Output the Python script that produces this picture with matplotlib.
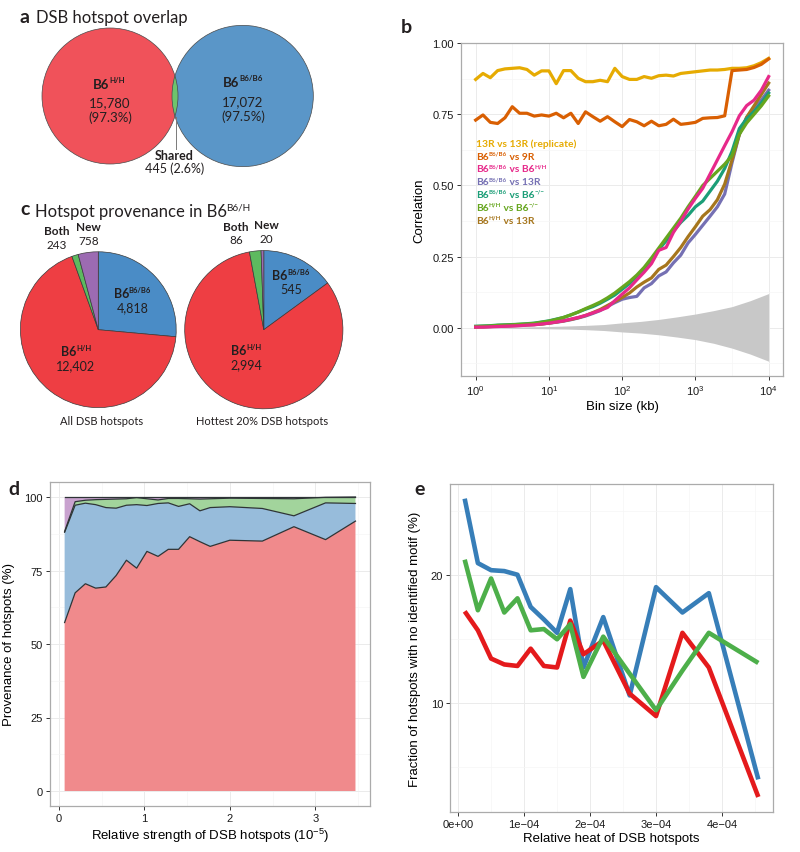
import numpy as np
import matplotlib
matplotlib.use("Agg")
import matplotlib.pyplot as plt
from matplotlib.patches import Circle

plt.rcParams["font.family"] = ["Liberation Sans", "DejaVu Sans"]
plt.rcParams["mathtext.fontset"] = "custom"
plt.rcParams["mathtext.rm"] = "Liberation Sans"
plt.rcParams["mathtext.it"] = "Liberation Sans:italic"
plt.rcParams["mathtext.bf"] = "Liberation Sans:bold"

W, H = 800, 853
ANN = ["Lato", "DejaVu Sans"]
INK = "#231f20"

# --- a: hotspot overlap ---
venn_hh = 15780
venn_b6 = 17072
venn_shared = 445
venn_pct = ["(97.3%)", "(97.5%)", "(2.6%)"]

# --- c: provenance pies (B6B6/B6, B6H/H, Both, New) ---
pie_all = [4818, 12402, 243, 758]
pie_hot = [545, 2994, 86, 20]

# --- b: correlation vs bin size ---
bin_log10 = [0.0, 0.1, 0.2, 0.3, 0.4, 0.5, 0.6, 0.7, 0.8, 0.9,
             1.0, 1.1, 1.2, 1.3, 1.4, 1.5, 1.6, 1.7, 1.8, 1.9,
             2.0, 2.1, 2.2, 2.3, 2.4, 2.5, 2.6, 2.7, 2.8, 2.9,
             3.0, 3.1, 3.2, 3.3, 3.4, 3.5, 3.6, 3.7, 3.8, 3.9, 4.0]
corr_rep = [0.873, 0.894, 0.879, 0.904, 0.910, 0.912, 0.914, 0.908, 0.888, 0.903,
            0.903, 0.858, 0.904, 0.904, 0.877, 0.865, 0.865, 0.870, 0.865, 0.912,
            0.883, 0.873, 0.873, 0.883, 0.877, 0.886, 0.888, 0.885, 0.894, 0.897,
            0.900, 0.903, 0.906, 0.906, 0.908, 0.912, 0.912, 0.914, 0.921, 0.932, 0.947]
corr_9r = [0.730, 0.748, 0.722, 0.718, 0.738, 0.777, 0.754, 0.754, 0.744, 0.748,
           0.744, 0.754, 0.738, 0.754, 0.718, 0.759, 0.742, 0.726, 0.742, 0.724,
           0.707, 0.732, 0.724, 0.710, 0.726, 0.710, 0.715, 0.733, 0.715, 0.718,
           0.722, 0.736, 0.738, 0.739, 0.745, 0.904, 0.906, 0.908, 0.915, 0.926, 0.945]
corr_hh = [0.002, 0.002, 0.003, 0.004, 0.005, 0.006, 0.007, 0.009, 0.010, 0.013,
           0.016, 0.020, 0.024, 0.030, 0.036, 0.043, 0.052, 0.061, 0.071, 0.095,
           0.118, 0.140, 0.168, 0.195, 0.225, 0.272, 0.282, 0.335, 0.374, 0.417,
           0.455, 0.490, 0.540, 0.590, 0.640, 0.689, 0.745, 0.781, 0.800, 0.835, 0.883]
corr_13r = [0.003, 0.003, 0.004, 0.005, 0.006, 0.007, 0.008, 0.010, 0.011, 0.013,
            0.016, 0.019, 0.023, 0.028, 0.034, 0.041, 0.050, 0.060, 0.075, 0.088,
            0.100, 0.106, 0.110, 0.140, 0.155, 0.182, 0.196, 0.228, 0.255, 0.298,
            0.328, 0.360, 0.392, 0.425, 0.470, 0.580, 0.680, 0.740, 0.770, 0.800, 0.835]
corr_ko = [0.005, 0.006, 0.007, 0.009, 0.010, 0.011, 0.012, 0.014, 0.016, 0.020,
           0.024, 0.030, 0.036, 0.045, 0.055, 0.065, 0.074, 0.086, 0.100, 0.115,
           0.135, 0.155, 0.180, 0.205, 0.240, 0.275, 0.305, 0.340, 0.370, 0.395,
           0.425, 0.445, 0.480, 0.515, 0.560, 0.620, 0.700, 0.735, 0.760, 0.790, 0.825]
corr_hh_ko = [0.004, 0.005, 0.006, 0.008, 0.009, 0.010, 0.012, 0.013, 0.015, 0.019,
              0.023, 0.029, 0.036, 0.045, 0.055, 0.067, 0.078, 0.090, 0.105, 0.122,
              0.142, 0.162, 0.185, 0.212, 0.245, 0.280, 0.315, 0.350, 0.385, 0.425,
              0.462, 0.500, 0.525, 0.550, 0.575, 0.605, 0.680, 0.720, 0.750, 0.780, 0.815]
corr_hh_13r = [0.002, 0.003, 0.004, 0.005, 0.006, 0.007, 0.008, 0.010, 0.011, 0.013,
               0.016, 0.020, 0.024, 0.029, 0.035, 0.043, 0.053, 0.064, 0.078, 0.092,
               0.106, 0.122, 0.143, 0.160, 0.175, 0.205, 0.220, 0.250, 0.282, 0.320,
               0.355, 0.392, 0.415, 0.450, 0.505, 0.590, 0.680, 0.740, 0.780, 0.820, 0.860]
null_log10 = [0.0, 0.25, 0.5, 0.75, 1.0, 1.25, 1.5, 1.75, 2.0, 2.25,
              2.5, 2.75, 3.0, 3.25, 3.5, 3.75, 4.0]
null_hi = [0.000, 0.001, 0.002, 0.003, 0.004, 0.006, 0.008, 0.011, 0.017, 0.022,
           0.029, 0.038, 0.048, 0.060, 0.074, 0.095, 0.120]
null_lo = [0.000, -0.001, -0.002, -0.003, -0.004, -0.005, -0.007, -0.010, -0.015, -0.019,
           -0.025, -0.033, -0.042, -0.055, -0.072, -0.093, -0.118]
# label pieces: (text, is_superscript)
b_labels = [[("13R vs 13R (replicate)", False)],
            [("B6", False), ("B6/B6", True), (" vs 9R", False)],
            [("B6", False), ("B6/B6", True), (" vs B6", False), ("H/H", True)],
            [("B6", False), ("B6/B6", True), (" vs 13R", False)],
            [("B6", False), ("B6/B6", True), (" vs B6", False), ("\u2212/\u2212", True)],
            [("B6", False), ("H/H", True), (" vs B6", False), ("\u2212/\u2212", True)],
            [("B6", False), ("H/H", True), (" vs 13R", False)]]
b_colors = ["#E6AB02", "#D95F02", "#E7298A", "#7570B3", "#1B9E77", "#66A61E", "#A6761D"]

# --- d: provenance vs strength (stack: B6H/H, B6B6/B6, Both, New) ---
strength = [0.067, 0.19, 0.31, 0.43, 0.55, 0.67, 0.79, 0.91, 1.03, 1.16,
            1.28, 1.40, 1.53, 1.65, 1.77, 2.00, 2.38, 2.75, 3.12, 3.47]
prov_hh = [57.3, 67.4, 70.5, 69.0, 69.4, 73.3, 78.5, 75.8, 81.5, 79.8,
           82.2, 82.2, 86.5, 84.8, 83.2, 85.3, 85.0, 89.9, 85.5, 91.8]
prov_b6 = [30.7, 29.8, 27.4, 28.4, 27.0, 22.9, 18.7, 21.6, 15.6, 18.0,
           15.8, 14.6, 11.2, 10.5, 13.2, 11.4, 11.1, 3.7, 12.5, 6.0]
prov_both = [0.3, 1.2, 1.0, 1.7, 2.8, 3.1, 2.2, 2.4, 2.3, 1.2,
             1.5, 2.7, 1.7, 4.0, 3.0, 2.9, 3.4, 5.8, 1.9, 2.2]
prov_new = [11.7, 1.6, 1.1, 0.9, 0.8, 0.7, 0.6, 0.2, 0.6, 1.0,
            0.5, 0.5, 0.6, 0.7, 0.6, 0.4, 0.5, 0.6, 0.1, 0.0]

# --- e: hotspots without motif vs heat ---
heat = [0.1e-4, 0.3e-4, 0.5e-4, 0.7e-4, 0.9e-4, 1.1e-4, 1.3e-4, 1.5e-4,
        1.7e-4, 1.9e-4, 2.2e-4, 2.6e-4, 3.0e-4, 3.4e-4, 3.8e-4, 4.55e-4]
nomotif_blue = [30.2, 21.3, 20.5, 20.4, 20.0, 16.8, 15.7, 14.6,
                18.5, 12.1, 15.9, 10.4, 18.7, 16.3, 18.1, 6.6]
nomotif_green = [21.7, 16.5, 19.6, 16.3, 17.6, 14.8, 14.9, 14.1,
                 15.3, 11.5, 14.3, 11.7, 9.6, 11.9, 14.6, 12.4]
nomotif_red = [16.4, 14.8, 12.7, 12.3, 12.2, 13.4, 12.2, 12.1,
               15.6, 13.0, 14.0, 10.5, 9.3, 14.6, 12.1, 6.0]

fig = plt.figure(figsize=(8, 8.53), dpi=100)


def px_axes(l, t, r, b):
    return fig.add_axes([l / W, 1 - b / H, (r - l) / W, (b - t) / H])


def gg_style(ax):
    ax.set_facecolor("white")
    for s in ax.spines.values():
        s.set_color("#ABABAB")
        s.set_linewidth(0.9)
    ax.tick_params(which="major", length=3, width=0.7, color="#333333",
                   labelsize=8, labelcolor="#1a1a1a", pad=2)
    ax.tick_params(which="minor", length=0)
    ax.grid(which="major", color="#EBEBEB", lw=0.7)
    ax.grid(which="minor", color="#F6F6F6", lw=0.5)
    ax.set_axisbelow(True)


# ---------- panel b ----------
ax_b = px_axes(461, 44.3, 783.3, 377.3)
gg_style(ax_b)
xb = 10 ** np.array(bin_log10)
xn = 10 ** np.array(null_log10)
ax_b.fill_between(xn, null_lo, null_hi, color="#C8C8C8", lw=0)
series_b = [corr_rep, corr_9r, corr_13r, corr_hh_13r, corr_ko, corr_hh_ko, corr_hh]
cols_b = [b_colors[0], b_colors[1], b_colors[3], b_colors[6], b_colors[4], b_colors[5], b_colors[2]]
for ys, c in zip(series_b, cols_b):
    ax_b.plot(xb, ys, color=c, lw=2.3, solid_joinstyle="round")
ax_b.set_xscale("log")
ax_b.set_xlim(10 ** -0.2, 10 ** 4.2)
ax_b.set_ylim(-0.171, 1.0)
ax_b.set_xticks([1, 10, 100, 1000, 10000])
ax_b.set_xticklabels([r"10$^{0}$", r"10$^{1}$", r"10$^{2}$", r"10$^{3}$", r"10$^{4}$"])
ax_b.set_xticks([10 ** 0.5, 10 ** 1.5, 10 ** 2.5, 10 ** 3.5], minor=True)
ax_b.set_yticks([0, 0.25, 0.5, 0.75, 1.0])
ax_b.set_yticklabels(["0.00", "0.25", "0.50", "0.75", "1.00"])
ax_b.set_yticks([-0.125, 0.125, 0.375, 0.625, 0.875], minor=True)
ax_b.set_xlabel("Bin size (kb)", fontsize=9.5, labelpad=2)
ax_b.set_ylabel("Correlation", fontsize=9.5, labelpad=5)

# ---------- panel d ----------
ax_d = px_axes(50, 483.3, 370, 806.7)
gg_style(ax_d)
d_colors = ["#F08A8C", "#97BCDB", "#A2D49C", "#C9A2CF"]
ax_d.stackplot(strength, prov_hh, prov_b6, prov_both, prov_new, colors=d_colors, lw=0)
cum = np.cumsum([prov_hh, prov_b6, prov_both, prov_new], axis=0)
for row in cum:
    ax_d.plot(strength, row, color="#2e3436", lw=0.9)
ax_d.set_xlim(-0.104, 3.64)
ax_d.set_ylim(-5, 105)
ax_d.set_xticks([0, 1, 2, 3])
ax_d.set_xticks([0.5, 1.5, 2.5, 3.5], minor=True)
ax_d.set_yticks([0, 25, 50, 75, 100])
ax_d.set_yticks([12.5, 37.5, 62.5, 87.5], minor=True)
ax_d.set_xlabel(r"Relative strength of DSB hotspots (10$^{-5}$)", fontsize=9.5, labelpad=2)
ax_d.set_ylabel("Provenance of hotspots (%)", fontsize=9.5, labelpad=7)

# ---------- panel e ----------
ax_e = px_axes(450, 485, 773, 813)
gg_style(ax_e)
for ys, c in [(nomotif_blue, "#377EB8"), (nomotif_red, "#E41A1C"), (nomotif_green, "#4DAF4A")]:
    ax_e.plot(heat, ys, color=c, lw=3.3, solid_joinstyle="round", solid_capstyle="butt")
ax_e.set_yscale("log")
ax_e.set_xlim(-0.1225e-4, 4.7725e-4)
ax_e.set_ylim(5.53, 32.7)
ax_e.set_yticks([10, 20])
ax_e.set_yticklabels(["10", "20"])
ax_e.set_yticks([7.07, 14.14, 28.28], minor=True)
ax_e.set_yticklabels([], minor=True)
ax_e.set_xticks([0, 1e-4, 2e-4, 3e-4, 4e-4])
ax_e.set_xticklabels(["0e+00", "1e\u221204", "2e\u221204", "3e\u221204", "4e\u221204"])
ax_e.set_xticks([0.5e-4, 1.5e-4, 2.5e-4, 3.5e-4, 4.5e-4], minor=True)
ax_e.set_xlabel("Relative heat of DSB hotspots", fontsize=9.5, labelpad=2)
ax_e.set_ylabel("Fraction of hotspots with no identified motif (%)", fontsize=9.5, labelpad=7)

# ---------- panel c pies ----------
pie_colors = ["#4A8CC6", "#EE3E43", "#5DBA5F", "#9C6BB2"]
for vals, box in [(pie_all, (20.0, 252.4, 176.6, 409.0)), (pie_hot, (184.3, 251.2, 343.3, 410.2))]:
    axp = px_axes(*box)
    axp.pie(vals, colors=pie_colors, startangle=90, counterclock=False,
            wedgeprops=dict(edgecolor="#3a3a3a", linewidth=0.5))
    axp.set_xlim(-1.005, 1.005)
    axp.set_ylim(-1.005, 1.005)
    axp.set_aspect("equal")
    axp.axis("off")

# ---------- overlay: panel a and all free text ----------
ov = px_axes(0, 0, W, H)
ov.set_xlim(0, W)
ov.set_ylim(H, 0)
ov.axis("off")
renderer = fig.canvas.get_renderer()

k = 68.0 / np.sqrt(venn_hh + venn_shared)
r_hh = k * np.sqrt(venn_hh + venn_shared)
r_b6 = k * np.sqrt(venn_b6 + venn_shared)
c_hh = (110, 97)
c_b6 = (110 + r_hh + r_b6 - 6, 97)
ov.add_patch(Circle(c_hh, r_hh, fc="#F0525A", ec="#4a4a4a", lw=0.5))
blue_c = Circle(c_b6, r_b6, fc="#5A96C8", ec="none")
ov.add_patch(blue_c)
lens = Circle(c_hh, r_hh, fc="#6EC46C", ec="#4a4a4a", lw=0.5)
ov.add_patch(lens)
lens.set_clip_path(blue_c)
ov.add_patch(Circle(c_b6, r_b6, fill=False, ec="#4a4a4a", lw=0.5))
ov.plot([175.5, 175.5], [118, 150], color="#7a7a7a", lw=0.7)


def t(x, y, s, size=9.5, bold=False, color=INK, ha="center", va="center"):
    ov.text(x, y, s, fontsize=size, fontweight="bold" if bold else "normal",
            family=ANN, color=color, ha=ha, va=va)


def rich(x, yc, parts, size=9.5, bold=False, color=INK, ha="center", sup_scale=0.6):
    px = size * 100 / 72
    base = yc + 0.36 * px
    arts, cur = [], 0.0
    for s, sup in parts:
        fs = size * sup_scale if sup else size
        yy = base - (0.40 * px if sup else 0)
        a = ov.text(x + cur, yy, s, fontsize=fs, fontweight="bold" if bold else "normal",
                    family=ANN, color=color, ha="left", va="baseline")
        cur += a.get_window_extent(renderer).width + (0.2 if sup else -0.4)
        arts.append(a)
    shift = -cur / 2 if ha == "center" else 0
    for a in arts:
        px0, py0 = a.get_position()
        a.set_position((px0 + shift, py0))


t(20, 22.5, "a", size=14, bold=True, ha="left", va="baseline")
t(36, 22.5, "DSB hotspot overlap", size=12, ha="left", va="baseline")
rich(109, 84, [("B6", False), ("H/H", True)], bold=True)
t(110, 103.5, f"{venn_hh:,}")
t(110, 117.5, venn_pct[0])
rich(243, 82, [("B6", False), ("B6/B6", True)], bold=True)
t(243, 102, f"{venn_b6:,}")
t(243, 116.5, venn_pct[1])
t(174.5, 155.5, "Shared", bold=True, size=9)
t(175, 168.5, f"{venn_shared} {venn_pct[2]}", size=9)

t(20, 215, "c", size=14, bold=True, ha="left", va="baseline")
rich(35, 210.7, [("Hotspot provenance in B6", False), ("B6/H", True)], size=12, ha="left")

rich(132.5, 293.5, [("B6", False), ("B6/B6", True)], bold=True, size=9)
t(132.5, 308, f"{pie_all[0]:,}", size=9)
rich(76.5, 351.5, [("B6", False), ("H/H", True)], bold=True, size=9)
t(76, 366, f"{pie_all[1]:,}", size=9)
t(56.8, 231.5, "Both", bold=True, size=8.5)
t(56.8, 245.5, f"{pie_all[2]:,}", size=8.5)
t(88.5, 227, "New", bold=True, size=8.5)
t(88.5, 241.5, f"{pie_all[3]:,}", size=8.5)
t(101.7, 421.7, "All DSB hotspots", size=8)

rich(291, 275, [("B6", False), ("B6/B6", True)], bold=True, size=9)
t(291, 289.5, f"{pie_hot[0]:,}", size=9)
rich(246.7, 350.7, [("B6", False), ("H/H", True)], bold=True, size=9)
t(246.7, 365, f"{pie_hot[1]:,}", size=9)
t(236.2, 227.3, "Both", bold=True, size=8.5)
t(236.2, 240.5, f"{pie_hot[2]:,}", size=8.5)
t(266, 225.8, "New", bold=True, size=8.5)
t(266, 239.5, f"{pie_hot[3]:,}", size=8.5)
t(262, 421.7, "Hottest 20% DSB hotspots", size=8)

t(401, 33, "b", size=14, bold=True, ha="left", va="baseline")
t(8, 495, "d", size=14, bold=True, ha="left", va="baseline")
t(414, 495, "e", size=14, bold=True, ha="left", va="baseline")

leg_y = [143.3, 155.8, 168.5, 181.5, 194.3, 207.3, 220]
for parts, c, y in zip(b_labels, b_colors, leg_y):
    rich(476.5, y, parts, size=7.4, bold=True, color=c, ha="left")

fig.savefig("out.png", dpi=100)
